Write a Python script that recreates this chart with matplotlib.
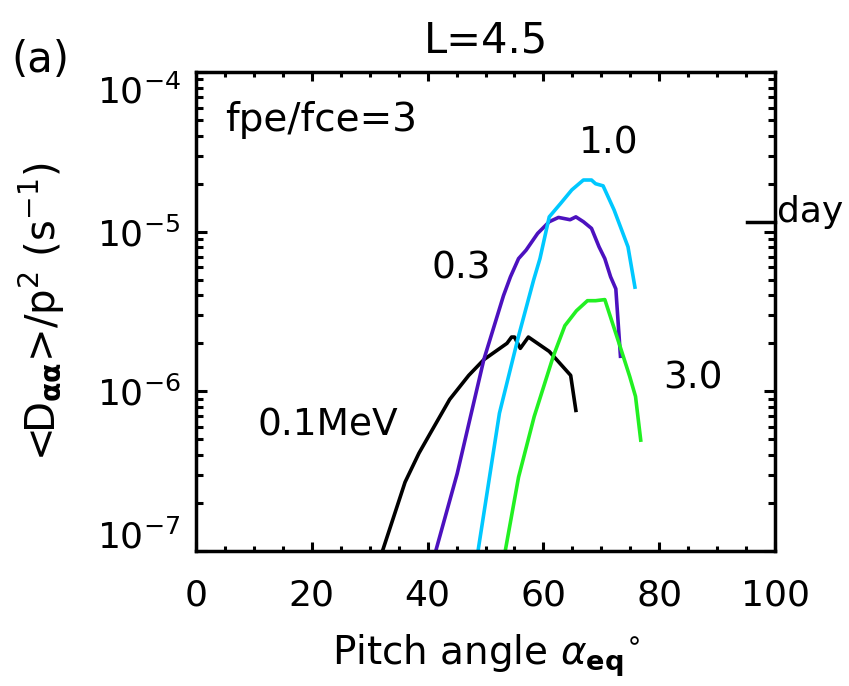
import numpy as np
import matplotlib
matplotlib.use('Agg')
import matplotlib.pyplot as plt
import matplotlib.ticker as mticker
from matplotlib.transforms import ScaledTranslation

plt.rcParams['font.family'] = ['DejaVu Sans']
plt.rcParams['mathtext.fontset'] = 'dejavusans'
plt.rcParams['font.size'] = 26

# pitch angle (deg) and <Daa>/p^2 (1/s)
x_01 = [31.7, 32.2, 36.1, 38.5, 40.5, 43.8, 47.1, 49.7, 53.7, 54.5, 55.0, 56.0, 57.4, 61.0, 64.7, 65.6]
d_01 = [9e-8, 1.0e-7, 2.7e-7, 4.1e-7, 5.5e-7, 8.9e-7, 1.26e-6, 1.58e-6, 2.0e-6, 2.19e-6, 2.19e-6,
        1.86e-6, 2.19e-6, 1.78e-6, 1.26e-6, 7.6e-7]

x_03 = [41.2, 41.4, 45.1, 47.4, 49.7, 53.1, 54.3, 55.7, 57.0, 59.0, 61.0, 62.6, 64.6, 65.6, 66.9,
        68.3, 69.6, 70.6, 71.6, 72.5, 73.3]
d_03 = [9e-8, 1.0e-7, 3.05e-7, 6.95e-7, 1.58e-6, 3.98e-6, 5.22e-6, 6.79e-6, 7.67e-6, 9.77e-6,
        1.156e-5, 1.23e-5, 1.19e-5, 1.24e-5, 1.156e-5, 1.05e-5, 8.05e-6, 6.79e-6, 5.22e-6,
        4.39e-6, 1.66e-6]

x_10 = [48.6, 48.7, 52.4, 55.7, 58.3, 59.4, 61.0, 63.0, 64.9, 66.9, 68.3, 69.0, 70.3, 72.2, 74.6, 75.8]
d_10 = [9e-8, 1.0e-7, 7.3e-7, 2.22e-6, 4.98e-6, 6.79e-6, 1.24e-5, 1.51e-5, 1.83e-5, 2.11e-5,
        2.11e-5, 2.0e-5, 1.94e-5, 1.37e-5, 8.05e-6, 4.5e-6]

x_30 = [53.3, 53.4, 55.7, 58.4, 61.7, 63.7, 65.7, 67.6, 69.0, 70.6, 73.3, 74.9, 75.9, 76.8]
d_30 = [9e-8, 1.0e-7, 2.9e-7, 6.95e-7, 1.66e-6, 2.58e-6, 3.2e-6, 3.7e-6, 3.7e-6, 3.76e-6,
        1.88e-6, 1.24e-6, 9.3e-7, 4.95e-7]

DAY = 1.0 / 86400.0

fig = plt.figure(figsize=(8.49, 6.86), dpi=100)
ax = fig.add_axes([0.2309, 0.1968, 0.682, 0.698])

lw = 2.6
ax.plot(x_01, d_01, color='black', lw=lw)
ax.plot(x_03, d_03, color='#4c11bf', lw=lw)
ax.plot(x_10, d_10, color='#00c8ff', lw=lw)
ax.plot(x_30, d_30, color='#22f022', lw=lw)

ax.set_yscale('log')
ax.set_xlim(0, 100)
ax.set_ylim(1e-7, 1e-4)
ax.xaxis.set_major_locator(mticker.MultipleLocator(20))
ax.xaxis.set_minor_locator(mticker.MultipleLocator(5))
ax.yaxis.set_major_locator(mticker.FixedLocator([1e-7, 1e-6, 1e-5, 1e-4]))
ax.yaxis.set_minor_locator(mticker.LogLocator(base=10, subs=np.arange(2, 10), numticks=10))
ax.yaxis.set_minor_formatter(mticker.NullFormatter())
ax.yaxis.set_major_formatter(mticker.LogFormatterSciNotation())
ax.tick_params(which='both', direction='in', top=True, right=True, width=2.2)
ax.tick_params(axis='x', which='major', length=6.5, pad=20)
ax.tick_params(axis='x', which='minor', length=3.5)
ax.tick_params(axis='y', which='major', length=8, pad=11)
ax.tick_params(axis='y', which='minor', length=5)
for s in ax.spines.values():
    s.set_linewidth(2.5)

# 1/day marker on the right edge
ax.plot([0.952, 1.0], [DAY, DAY], color='black', lw=2.5,
        transform=ax.get_yaxis_transform(), clip_on=False)
ax.text(1.004, DAY, 'day', transform=ax.get_yaxis_transform(),
        ha='left', va='baseline', fontsize=26)

ax.text(0.05, 0.94, 'fpe/fce=3', transform=ax.transAxes, ha='left', va='top', fontsize=28)
ax.text(71.2, 3.59e-5, '1.0', ha='center', va='center', fontsize=27)
ax.text(45.8, 5.86e-6, '0.3', ha='center', va='center', fontsize=27)
ax.text(22.7, 6.1e-7, '0.1MeV', ha='center', va='center', fontsize=27)
ax.text(85.9, 1.21e-6, '3.0', ha='center', va='center', fontsize=27)

ax.set_title('L=4.5', fontsize=30, pad=14)
fig.text(0.048, 0.9125, '(a)', fontsize=30, ha='center', va='center')
ax.set_xlabel(r'Pitch angle $\alpha_{\mathbf{eq}}$$^{\circ}$', fontsize=28)
ax.xaxis.set_label_coords(0.5, -0.17)
ax.set_ylabel(r'<D$_{\mathbf{\alpha\alpha}}$>/p$^2$ (s$^{-1}$)', fontsize=29)
ax.yaxis.set_label_coords(-0.223, 0.5)

# keep the end labels of the y axis inside the axis range
fig.canvas.draw()
for tick in ax.yaxis.get_major_ticks():
    loc = tick.get_loc()
    if np.isclose(loc, 1e-7):
        dy = 12
    elif np.isclose(loc, 1e-4):
        dy = -12
    else:
        continue
    tick.label1.set_transform(tick.label1.get_transform()
                              + ScaledTranslation(0, dy / 72, fig.dpi_scale_trans))

fig.savefig('out.png', dpi=100)
